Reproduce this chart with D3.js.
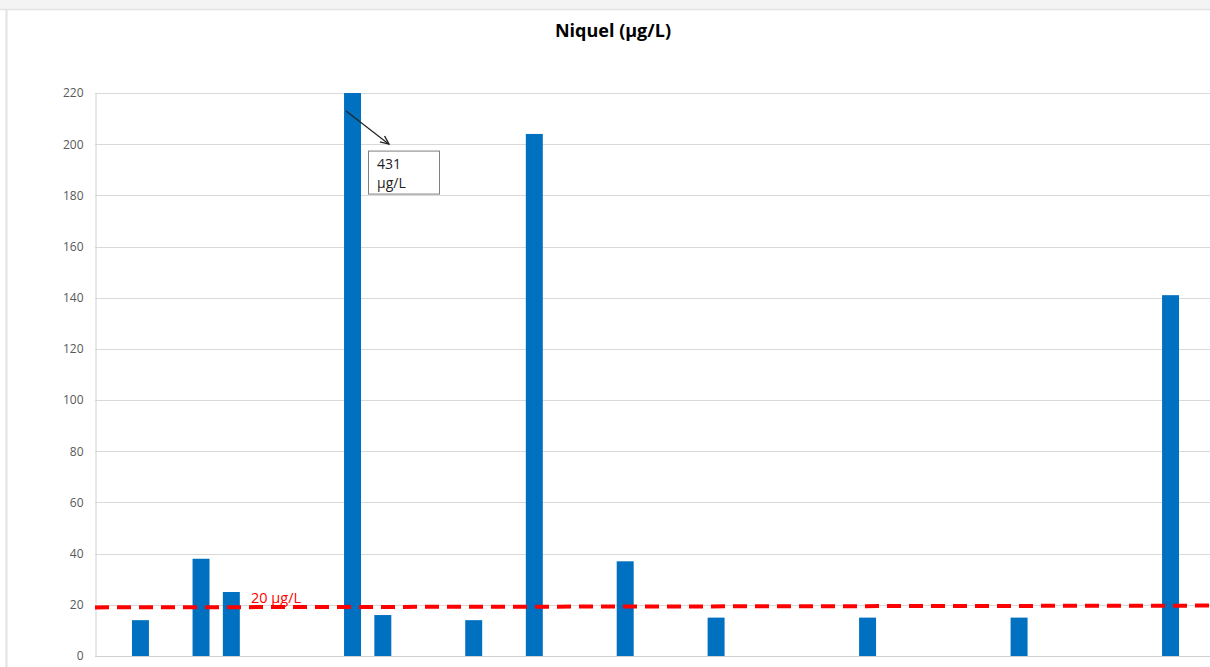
<!DOCTYPE html>
<html>
<head>
<meta charset="utf-8">
<script src="https://cdn.jsdelivr.net/npm/d3@7"></script>
<style>
  html, body { margin: 0; padding: 0; background: #ffffff; }
  svg { display: block; }
</style>
</head>
<body>
<svg id="chart" width="1210" height="667"></svg>
<script>
// ---- data ----
const categories = d3.range(1, 38).map(i => "P" + i);
// measured nickel concentration (µg/L); null = no bar in that slot
const values = [null, 14, null, 38, 25, null, null, null, 431, 16, null, null, 14, null, 204,
  null, null, 37, null, null, 15, null, null, null, null, 15, null, null, null, null, 15,
  null, null, null, null, 141, null];
const yTicks = [0, 20, 40, 60, 80, 100, 120, 140, 160, 180, 200, 220];
const limitLine = [19.0, 19.7];       // reference line value at left / right end
const limitLabel = "20 µg/L";
const title = "Niquel (µg/L)";
const calloutLines = ["431", "µg/L"];
const calloutCategory = "P9";

// ---- layout ----
const W = 1210, H = 667;
const m = { left: 95, right: -6, top: 93, bottom: 11 };
const svg = d3.select("#chart");

// frame
svg.append("rect").attr("x", 0).attr("y", 0).attr("width", W).attr("height", 9).attr("fill", "#f4f4f4");
svg.append("line").attr("x1", 0).attr("x2", W).attr("y1", 9.5).attr("y2", 9.5).attr("stroke", "#e2e2e2").attr("stroke-width", 1.5);
svg.append("line").attr("x1", 6.5).attr("x2", 6.5).attr("y1", 9.5).attr("y2", 667).attr("stroke", "#e2e2e2").attr("stroke-width", 2);

const x = d3.scaleBand().domain(categories).range([m.left, W - m.right]).paddingInner(0.44).paddingOuter(0.22);
const y = d3.scaleLinear().domain([0, 220]).range([H - m.bottom, m.top]);

// gridlines
svg.append("g").selectAll("line").data(yTicks.filter(t => t > 0)).join("line")
  .attr("x1", m.left).attr("x2", W - m.right)
  .attr("y1", d => Math.round(y(d)) + 0.5).attr("y2", d => Math.round(y(d)) + 0.5)
  .attr("stroke", "#d9d9d9").attr("stroke-width", 1);

// y axis
const yAxis = d3.axisLeft(y).tickValues(yTicks).tickSize(0).tickPadding(12);
const gy = svg.append("g").attr("transform", `translate(${m.left + 0.5},0)`).call(yAxis);
gy.select(".domain").attr("stroke", "#d0d0d0");
gy.selectAll("text").attr("font-family", "'Open Sans', sans-serif").attr("font-size", 12).attr("fill", "#595959");

// baseline
svg.append("line").attr("x1", m.left).attr("x2", W - m.right)
  .attr("y1", y(0) + 0.5).attr("y2", y(0) + 0.5).attr("stroke", "#d0d0d0");

// bars
const data = categories.map((c, i) => ({ c, v: values[i] })).filter(d => d.v != null);
svg.append("g").selectAll("rect").data(data).join("rect")
  .attr("x", d => x(d.c)).attr("width", x.bandwidth())
  .attr("y", d => y(Math.min(d.v, 220))).attr("height", d => y(0) - y(Math.min(d.v, 220)))
  .attr("fill", "#0070c0");

// limit line
svg.append("line")
  .attr("x1", m.left).attr("x2", W - m.right)
  .attr("y1", y(limitLine[0])).attr("y2", y(limitLine[1]))
  .attr("stroke", "#ff0000").attr("stroke-width", 4).attr("stroke-dasharray", "14 8");
svg.append("text").attr("x", 251).attr("y", y(limitLine[0]) - 4)
  .attr("font-family", "'Open Sans', sans-serif").attr("font-size", 14.5).attr("fill", "#ff0000")
  .text(limitLabel);

// title
svg.append("text").attr("x", 613).attr("y", 37).attr("text-anchor", "middle")
  .attr("font-family", "'Open Sans', sans-serif").attr("font-weight", "bold").attr("font-size", 18)
  .attr("fill", "#000").text(title);

// callout
const cx = x(calloutCategory) + x.bandwidth();
svg.append("defs").append("marker").attr("id", "arr").attr("viewBox", "0 0 10 10")
  .attr("refX", 9).attr("refY", 5).attr("markerWidth", 8).attr("markerHeight", 8).attr("orient", "auto")
  .append("path").attr("d", "M0,1 L9,5 L0,9").attr("fill", "none").attr("stroke", "#222").attr("stroke-width", 1.3);
svg.append("line").attr("x1", cx - 15).attr("y1", y(213)).attr("x2", cx + 28).attr("y2", y(200))
  .attr("stroke", "#222").attr("stroke-width", 1.2).attr("marker-end", "url(#arr)");
const bx = cx + 7, by = y(197.5);
svg.append("rect").attr("x", bx + 0.5).attr("y", by + 0.5).attr("width", 71).attr("height", 43)
  .attr("fill", "#fff").attr("stroke", "#7f7f7f");
svg.append("g").selectAll("text").data(calloutLines).join("text")
  .attr("x", bx + 9).attr("y", (d, i) => by + 18 + i * 19)
  .attr("font-family", "'Open Sans', sans-serif").attr("font-size", 14).attr("fill", "#222")
  .text(d => d);
</script>
</body>
</html>
